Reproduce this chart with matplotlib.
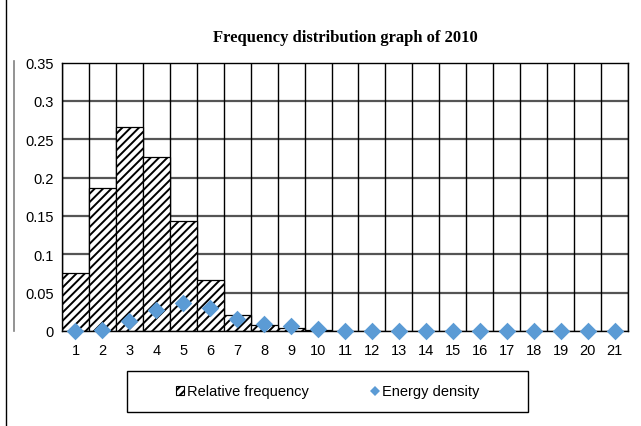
import matplotlib
matplotlib.use("Agg")
import matplotlib.pyplot as plt
import numpy as np
from matplotlib.lines import Line2D
from matplotlib.patches import Patch, Rectangle

categories = [str(i) for i in range(1, 22)]
relative_frequency = [0.076, 0.187, 0.266, 0.227, 0.144, 0.067, 0.021, 0.008, 0.004, 0.001,
                      0, 0, 0, 0, 0, 0, 0, 0, 0, 0, 0]
energy_density = [0.0, 0.0015, 0.0125, 0.027, 0.036, 0.030, 0.016, 0.0095, 0.0065, 0.003,
                  0, 0, 0, 0, 0, 0, 0, 0, 0, 0, 0]
yticks = [0, 0.05, 0.1, 0.15, 0.2, 0.25, 0.3, 0.35]
ytick_labels = ["0", "0.05", "0.1", "0.15", "0.2", "0.25", "0.3", "0.35"]

plt.rcParams['hatch.linewidth'] = 1.4
fig = plt.figure(figsize=(6.41, 4.27), dpi=100)
W, H = 641, 427
ax = fig.add_axes([62 / W, 1 - 332 / H, (628 - 62) / W, (332 - 63.5) / H])

x = np.arange(len(categories))
ax.hlines(yticks[1:-1], -0.5, len(categories) - 0.5, colors="#555555",
          linewidth=1.6, zorder=1.5)
ax.vlines(np.arange(-0.5, len(categories), 1.0), 0, 0.35, colors="black",
          linewidth=1.0, zorder=1.6)
ax.bar(x, relative_frequency, width=1.0, color="white", edgecolor="black",
       hatch="////", linewidth=0.9, zorder=2)
ax.scatter(x, energy_density, marker="D", s=80, color="#5B9BD5", zorder=4,
           clip_on=False, linewidths=0)

ax.set_xlim(-0.5, len(categories) - 0.5)
ax.set_ylim(0, 0.35)
ax.set_yticks(yticks)
ax.set_yticklabels(ytick_labels, fontfamily="Liberation Sans", fontsize=10.5)
ax.set_xticks(x)
ax.set_xticklabels(categories, fontfamily="Liberation Sans", fontsize=10.5)
ax.tick_params(length=0, pad=6)
ax.tick_params(axis="x", pad=9)

for s in ax.spines.values():
    s.set_color("black")
    s.set_linewidth(1.0)

fig.text(0.5 * (62 + 628) / W, 1 - 38 / H, "Frequency distribution graph of 2010",
         ha="center", va="center", fontfamily="Liberation Serif",
         fontweight="bold", fontsize=12)

fig.add_artist(Line2D([6 / W, 6 / W], [0, 1], color="black", linewidth=1.0))
fig.add_artist(Line2D([13.5 / W, 13.5 / W], [1 - 332 / H, 1 - 62 / H],
                      color="#808080", linewidth=1.2))

handles = [Patch(facecolor="white", edgecolor="black", hatch="////", linewidth=0.8),
           Line2D([], [], marker="D", linestyle="none", color="#5B9BD5",
                  markersize=5.5, markeredgewidth=0)]
leg = fig.legend(handles, ["Relative frequency", "Energy density"],
                 loc="center", bbox_to_anchor=(0.5 * (127 + 528) / W, 1 - 392.5 / H),
                 ncol=2, frameon=False, handlelength=0.6,
                 handleheight=0.6, handletextpad=0.2, columnspacing=4.2,
                 borderpad=1.0, borderaxespad=0,
                 prop={"family": "Liberation Sans", "size": 10.5})
fig.add_artist(Rectangle((127 / W, 1 - 413 / H), (528 - 127) / W, (413 - 372) / H,
                         transform=fig.transFigure, fill=False,
                         edgecolor="black", linewidth=1.0))

fig.savefig("out.png", dpi=100)
